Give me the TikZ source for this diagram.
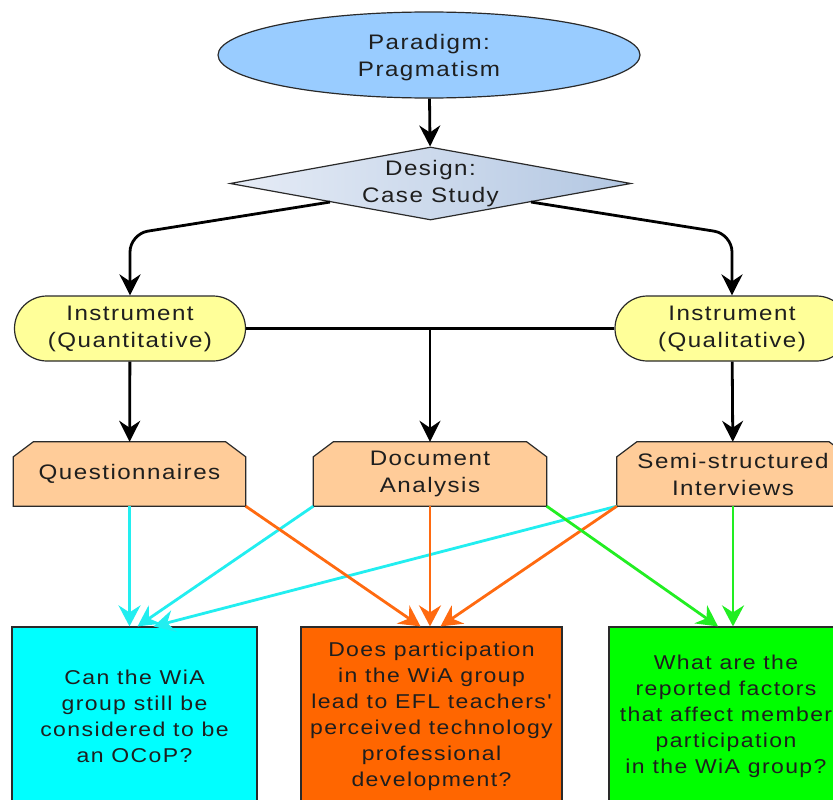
\documentclass[tikz,border=0pt]{standalone}
\usepackage{fontspec}
\newfontfamily\lblfont{Liberation Sans}[FakeStretch=1.15,LetterSpace=7]
\usetikzlibrary{shapes.geometric,shapes.misc,arrows.meta}

\definecolor{txt}{HTML}{1E1E1E}
\definecolor{edge}{HTML}{2A2A2A}
\definecolor{skyblue}{HTML}{99CCFF}
\definecolor{dgl}{HTML}{E6ECF6}
\definecolor{dgr}{HTML}{B3C7E2}
\definecolor{paleyellow}{HTML}{FFFF99}
\definecolor{peach}{HTML}{FFCC99}
\definecolor{qcyan}{HTML}{00FFFF}
\definecolor{qorange}{HTML}{FF6600}
\definecolor{qgreen}{HTML}{00FF00}
\definecolor{lcyan}{HTML}{22EEF0}
\definecolor{lorange}{HTML}{FF6A10}
\definecolor{lgreen}{HTML}{22EE22}

% outline of a box whose two top corners are cut off
\newcommand\drawchamfer[1]{%
  \filldraw[chamfer] (#1.south west) -- ([yshift=-15pt]#1.north west)
    -- ([xshift=20pt]#1.north west) -- ([xshift=-20pt]#1.north east)
    -- ([yshift=-15pt]#1.north east) -- (#1.south east) -- cycle;}

\begin{document}
\begin{tikzpicture}[x=1pt,y=-1pt,
  lbl/.style={font=\lblfont\fontsize{21}{27}\selectfont, text=txt, align=center, inner sep=0pt},
  base/.style={lbl, draw=edge, line width=1.2pt},
  paradigm/.style={base, ellipse, fill=skyblue, minimum width=422pt, minimum height=86pt},
  design/.style={base, diamond, aspect=5.5, left color=dgl, right color=dgr,
    minimum width=401pt, minimum height=73pt},
  instr/.style={base, rounded rectangle, fill=paleyellow, minimum height=65pt},
  methodframe/.style={rectangle, inner sep=0pt, minimum width=232pt, minimum height=64pt},
  chamfer/.style={fill=peach, draw=edge, line width=1.2pt},
  question/.style={base, rectangle, font=\lblfont\fontsize{20}{26}\selectfont,
    minimum height=178pt},
  flow/.style={line width=2.8pt, draw=black, -{Stealth[length=21pt,width=21pt,inset=7pt]}},
  link/.style={line width=2.8pt, -{Stealth[length=21pt,width=22pt,inset=7pt]}}
]
\clip (0,0) rectangle (833,800);
\fill[white] (0,0) rectangle (833,800);

% research framework nodes
\node[paradigm] (para) at (429,55) {};
\node[lbl] (paratext) at (429,58) {Paradigm:\\Pragmatism};
\node[design] (des) at (430.5,183.5) {Design:\\Case Study};
\node[instr, minimum width=231pt] (quant) at (130,328.5) {Instrument\\(Quantitative)};
\node[instr, minimum width=234pt] (qual) at (732,328.5) {Instrument\\(Qualitative)};

% data collection methods: chamfered frame, then its text
\node[methodframe] (qs) at (129.5,474) {};
\drawchamfer{qs}
\node[lbl] (qstext) at (qs) {Questionnaires};
\node[methodframe, minimum width=233pt] (doc) at (430,474) {};
\drawchamfer{doc}
\node[lbl] (doctext) at (doc) {Document\\Analysis};
\node[methodframe] (semi) at (733,474) {};
\drawchamfer{semi}
\node[lbl] (semitext) at (semi) {Semi-structured\\Interviews};

% research questions
\node[question, fill=qcyan, minimum width=245pt] (rq1) at (134.5,716)
  {Can the WiA\\group still be\\considered to be\\an OCoP?};
\node[question, fill=qorange, minimum width=261pt] (rq2) at (431.5,716)
  {Does participation\\in the WiA group\\lead to EFL teachers'\\perceived technology\\professional\\development?};
\node[question, fill=qgreen, minimum width=234pt] (rq3) at (726,716)
  {What are the\\reported factors\\that affect member\\participation\\in the WiA group?};

% bend points of the design branches
\coordinate (lbend) at (130,234);
\coordinate (rbend) at (732,234);

% black flow
\draw[flow] (para) -- (des);
\draw[flow, rounded corners=18pt] (des.south west) -- (lbend) -- (quant.north);
\draw[flow, rounded corners=18pt] (des.south east) -- (rbend) -- (qual.north);
\draw[line width=2.8pt] (quant.east) -- (qual.west);
\draw[flow] (quant.east -| doc.north) -- (doc.north);
\draw[flow] (quant) -- (qs);
\draw[flow] (qual) -- (semi);

% instruments to research questions
\draw[link, lcyan] (qs.south) -- (qs.south |- rq1.north);
\draw[link, lcyan] (doc.south west) -- ([xshift=3pt]rq1.north);
\draw[link, lcyan] (semi.south west) -- ([xshift=19pt]rq1.north);
\draw[link, lorange] (qs.south east) -- ([xshift=-11pt]rq2.north);
\draw[link, lorange] (doc.south) -- (doc.south |- rq2.north);
\draw[link, lorange] (semi.south west) -- ([xshift=9pt]rq2.north);
\draw[link, lgreen] (doc.south east) -- ([xshift=-8pt]rq3.north);
\draw[link, lgreen] (semi.south) -- (semi.south |- rq3.north);
\end{tikzpicture}
\end{document}
